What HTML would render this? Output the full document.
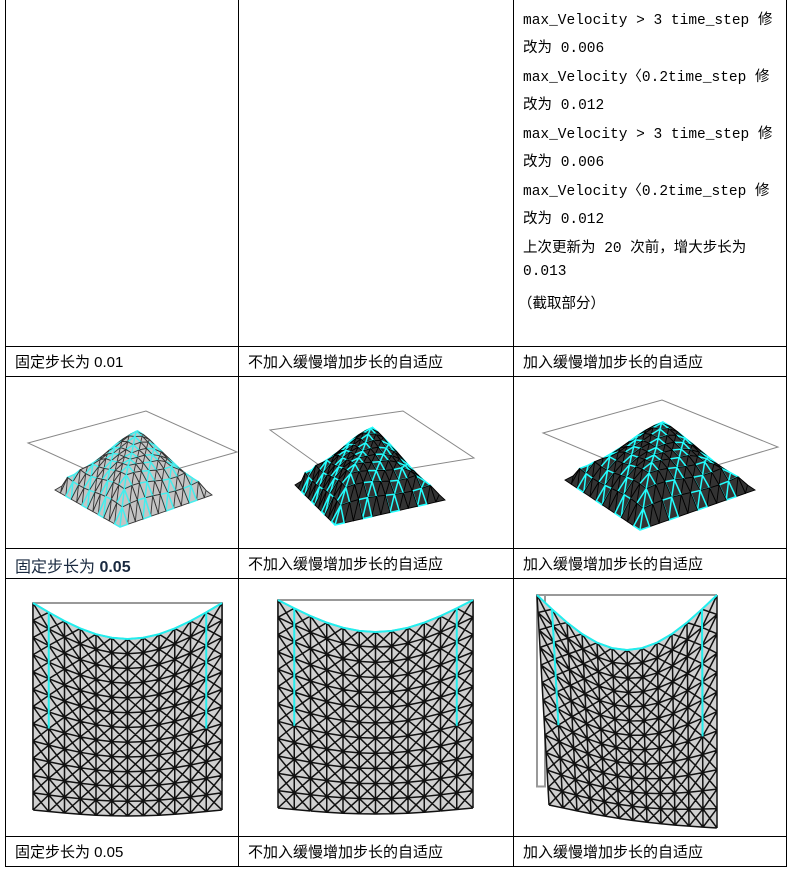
<!DOCTYPE html>
<html><head><meta charset="utf-8">
<style>
body{margin:0;background:#fff;width:796px;height:875px;position:relative;overflow:hidden;font-family:"Liberation Mono","Noto Sans CJK SC",monospace;}
.l{position:absolute;background:#000;}
.t{position:absolute;font-size:14.5px;color:#000;white-space:nowrap;font-family:"Liberation Mono","Noto Sans CJK SC",monospace;}
.c{position:absolute;font-size:15px;white-space:nowrap;font-family:"Liberation Sans","Noto Sans CJK SC",sans-serif;}
svg{position:absolute;left:0;top:0;}
</style></head><body>
<div>
<div class="l" style="left:5px;top:0;width:1px;height:867px"></div>
<div class="l" style="left:238px;top:0;width:1px;height:867px"></div>
<div class="l" style="left:513px;top:0;width:1px;height:867px"></div>
<div class="l" style="left:786px;top:0;width:1px;height:867px"></div>
<div class="l" style="left:5px;top:346px;width:782px;height:1px"></div>
<div class="l" style="left:5px;top:376px;width:782px;height:1px"></div>
<div class="l" style="left:5px;top:548px;width:782px;height:1px"></div>
<div class="l" style="left:5px;top:578px;width:782px;height:1px"></div>
<div class="l" style="left:5px;top:836px;width:782px;height:1px"></div>
<div class="l" style="left:5px;top:866px;width:782px;height:1px"></div>
</div>
<div>
<div class="t" style="left:523px;top:8px">max_Velocity &gt; 3 time_step 修</div>
<div class="t" style="left:523px;top:36px">改为 0.006</div>
<div class="t" style="left:523px;top:65px">max_Velocity〈0.2time_step 修</div>
<div class="t" style="left:523px;top:93px">改为 0.012</div>
<div class="t" style="left:523px;top:122px">max_Velocity &gt; 3 time_step 修</div>
<div class="t" style="left:523px;top:150px">改为 0.006</div>
<div class="t" style="left:523px;top:179px">max_Velocity〈0.2time_step 修</div>
<div class="t" style="left:523px;top:207px">改为 0.012</div>
<div class="t" style="left:523px;top:236px">上次更新为 20 次前，增大步长为</div>
<div class="t" style="left:523px;top:264px">0.013</div>
<div class="t" style="left:518px;top:292px">（截取部分）</div>
</div>
<div class="c" style="left:15px;top:351px">固定步长为 0.01</div>
<div class="c" style="left:248px;top:351px">不加入缓慢增加步长的自适应</div>
<div class="c" style="left:523px;top:351px">加入缓慢增加步长的自适应</div>
<div class="c" style="left:15px;top:553px;font-size:16px;color:#1a2a40">固定步长为 <b>0.05</b></div>
<div class="c" style="left:248px;top:553px">不加入缓慢增加步长的自适应</div>
<div class="c" style="left:523px;top:553px">加入缓慢增加步长的自适应</div>
<div class="c" style="left:15px;top:841px">固定步长为 0.05</div>
<div class="c" style="left:248px;top:841px">不加入缓慢增加步长的自适应</div>
<div class="c" style="left:523px;top:841px">加入缓慢增加步长的自适应</div>
<svg id="s" width="796" height="875"></svg>
<script>
const NS="http://www.w3.org/2000/svg";
const S=document.getElementById('s');
function mk(tag,a,name){const e=document.createElementNS(NS,tag);for(const k in a)e.setAttribute(k,a[k]);


S.appendChild(e);return e;}
const N=12;
// hanging cloth panels: [x0,x1,topY,sag,botL,botR,botSag,skew]
const hang=[[33,222,603,36,810,810,6,0],[278,473,600,32,808,808,6,0],[537,717,595,55,805,828,4,12]];
hang.forEach((p,pi)=>{
 const [x0,x1,ty,sag,bl,br,bs,sk]=p;
 mk('rect',{x:x0,y:ty,width:pi==2?8:x1-x0,height:(bl+br)/2-ty-30,fill:'none',stroke:'#999','stroke-width':2},'frame-'+pi);
 if(pi==2)mk('line',{x1:x0,y1:ty,x2:x1,y2:ty,stroke:'#999','stroke-width':2},'frame-top-2');
 const P=[];
 for(let i=0;i<=N;i++){P[i]=[];for(let j=0;j<=N;j++){const u=j/N,v=i/N;
  const top=ty+sag*Math.sin(Math.PI*u);const bot=bl+(br-bl)*u+bs*Math.sin(Math.PI*u);
  const x=x0+(x1-x0)*u+sk*v*(1-u);P[i][j]=[x,top+(bot-top)*v];}}
 let d='M'+P[0].map(q=>q.join(',')).join('L');
 d+='L'+P.map(r=>r[N].join(',')).join('L');
 d+='L'+P[N].slice().reverse().map(q=>q.join(',')).join('L');
 d+='L'+P.map(r=>r[0].join(',')).reverse().join('L')+'Z';
 mk('path',{d:d,fill:'#d0d0d0',stroke:'none'},'cloth-fill-'+pi);
 let g='';
 for(let i=0;i<=N;i++)for(let j=0;j<=N;j++){
  if(j<N)g+='M'+P[i][j]+'L'+P[i][j+1];
  if(i<N)g+='M'+P[i][j]+'L'+P[i+1][j];
  if(i<N&&j<N)g+='M'+P[i][j]+'L'+P[i+1][j+1]+'M'+P[i][j+1]+'L'+P[i+1][j];}
 mk('path',{d:g,stroke:'#111','stroke-width':1.5,fill:'none'},'cloth-mesh-'+pi);
 mk('path',{d:'M'+P[0].map(q=>q.join(',')).join('L'),stroke:'#2ee',fill:'none','stroke-width':2},'cloth-top-edge-'+pi);
 mk('path',{d:'M'+P.slice(0,8).map(r=>r[1].join(',')).join('L')+'M'+P.slice(0,8).map(r=>r[N-1].join(',')).join('L'),stroke:'#2ee',fill:'none','stroke-width':2},'cloth-side-highlight-'+pi);
});
// 3D drape panels: frame corners, flat mesh corners [back,right,front,left], drop
const drape=[
 {f:[[28,443],[146,411],[237,452],[120,485]],m:[[140,405],[212,460],[120,492],[55,455]],drop:35,fill:'#c4c4c4',cw:'#333',cy:'#4ee'},
 {f:[[270,430],[403,411],[474,458],[340,480]],m:[[375,400],[445,465],[335,490],[295,450]],drop:35,fill:'#333',cw:'#000',cy:'#2ff'},
 {f:[[543,433],[662,400],[778,447],[660,482]],m:[[665,395],[755,455],[640,495],[565,445]],drop:35,fill:'#333',cw:'#000',cy:'#2ff'}];
drape.forEach((D,pi)=>{
 mk('polygon',{points:D.f.map(q=>q.join(',')).join(' '),fill:'none',stroke:'#888','stroke-width':1},'drape-frame-'+pi);
 const M=D.m,n=12,P=[];
 for(let i=0;i<=n;i++){P[i]=[];for(let j=0;j<=n;j++){const u=j/n,v=i/n;
  const a=M[0],b=M[1],c=M[2],e=M[3];
  let x=a[0]*(1-u)*(1-v)+b[0]*u*(1-v)+c[0]*u*v+e[0]*(1-u)*v;
  let y=a[1]*(1-u)*(1-v)+b[1]*u*(1-v)+c[1]*u*v+e[1]*(1-u)*v;
  const su=Math.abs(2*u-1),sv=Math.abs(2*v-1);
  y+=D.drop*Math.pow(Math.max(su,sv),2.5)-5*Math.sin(Math.PI*u*2)*Math.sin(Math.PI*v*2);P[i][j]=[x,y];}}
 const order=[];
 for(let i=0;i<n;i++)for(let j=0;j<n;j++)order.push([i,j]);
 order.sort((A,B)=>(A[0]+A[1])-(B[0]+B[1]));
 const grp=mk('g',{},'drape-mesh-'+pi);
 order.forEach(([i,j],k)=>{
  const q=[P[i][j],P[i][j+1],P[i+1][j+1],P[i+1][j]];
  const e=document.createElementNS(NS,'path');
  e.setAttribute('d','M'+q.join('L')+'ZM'+P[i][j]+'L'+P[i+1][j+1]);
  e.setAttribute('fill',D.fill);
  e.setAttribute('stroke',((i*2+j)%3==0)?D.cy:D.cw);
  e.setAttribute('stroke-width',((i*2+j)%3==0)?1.5:0.9);
  
  
  grp.appendChild(e);
 });
});
</script>
</body></html>
